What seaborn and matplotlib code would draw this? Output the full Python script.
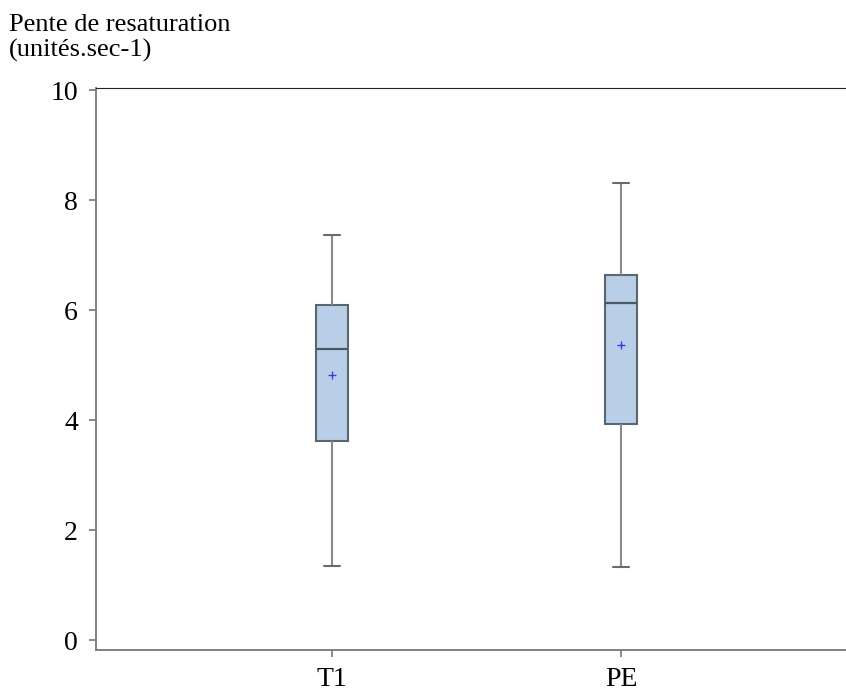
import matplotlib
matplotlib.use("Agg")
import matplotlib.pyplot as plt
import seaborn as sns
import pandas as pd

# Five-number summaries
groups = ["T1", "PE"]
whisker_low = [1.35, 1.33]
q1 = [3.62, 3.93]
median = [5.29, 6.13]
q3 = [6.09, 6.64]
whisker_high = [7.37, 8.31]
means = [4.82, 5.36]

y_ticks = [0, 2, 4, 6, 8, 10]

rows = []
for i, g in enumerate(groups):
    for v in (whisker_low[i], q1[i], median[i], q3[i], whisker_high[i]):
        rows.append({"group": g, "value": v})
df = pd.DataFrame(rows)
df_mean = pd.DataFrame({"group": groups, "value": means})

sns.set_style("white")
plt.rcParams["font.family"] = ["Liberation Serif", "DejaVu Serif"]
plt.rcParams["text.color"] = "black"

fig = plt.figure(figsize=(8.46, 6.96), dpi=100)
ax_left, ax_right = 96, 855
ax = fig.add_axes([ax_left / 846, 1 - 650 / 696, (ax_right - ax_left) / 846, (650 - 88) / 696])

box_face = "#b9cfe7"
edge = "#5a6672"
sns.boxplot(data=df, x="group", y="value", order=groups, whis=float("inf"),
            width=0.113, color=box_face, linewidth=1.5, ax=ax,
            boxprops=dict(facecolor=box_face, edgecolor=edge),
            medianprops=dict(color="#4b5866", linewidth=1.6),
            whiskerprops=dict(color="#8a8a8a", linewidth=1.5),
            capprops=dict(color="#6a6a6a", linewidth=1.5),
            showfliers=False)
sns.scatterplot(data=df_mean, x="group", y="value", marker="+", s=30,
                color="#3a3ae8", linewidth=1.0, ax=ax, zorder=5, legend=False)

ax.set_xlim(-236 / 289, (ax_right - 332) / 289)
ax.set_ylim(-0.18, 10.04)
ax.set_yticks(y_ticks)
ax.set_yticklabels([str(t) for t in y_ticks])
ax.set_xlabel("")
ax.set_ylabel("")

for s in ["left", "bottom"]:
    ax.spines[s].set_color("#777777")
    ax.spines[s].set_linewidth(1.3)
ax.spines["top"].set_color("#222222")
ax.spines["top"].set_linewidth(0.8)
ax.spines["right"].set_visible(False)

ax.tick_params(axis="both", which="both", direction="out", length=5, width=1.2,
               color="#777777", labelsize=20, labelcolor="black", left=True, bottom=True)
ax.tick_params(axis="y", pad=8)
ax.tick_params(axis="x", pad=7)

fig.text(9 / 846, 1 - 14 / 696, "Pente de resaturation\n(unités.sec-1)",
         ha="left", va="top", fontsize=19, linespacing=1.15, color="black")

fig.savefig("out.png", dpi=100)
